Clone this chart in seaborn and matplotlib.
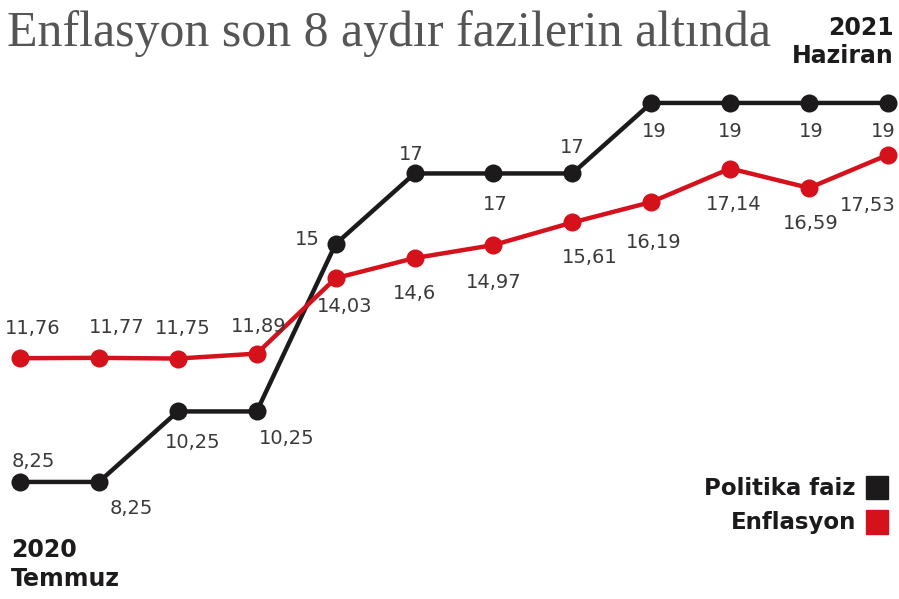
import numpy as np
import pandas as pd
import matplotlib.pyplot as plt
import seaborn as sns

# Monthly data, July 2020 .. June 2021
months = list(range(12))
faiz = [8.25, 8.25, 10.25, 10.25, 15, 17, 17, 17, 19, 19, 19, 19]
enflasyon = [11.76, 11.77, 11.75, 11.89, 14.03, 14.6, 14.97, 15.61, 16.19, 17.14, 16.59, 17.53]

# label offsets (pixels) for each point
faiz_off = [(13, 20), (32, -27), (15, -31), (30, -27), (-28, 4), (-3, 19), (2, -31), (0, 26),
            (3, -29), (0, -29), (2, -29), (-5, -29)]
enf_off = [(13, 30), (18, 30), (5, 30), (2, 27), (9, -28), (0, -35), (0, -37), (17, -35),
           (2, -40), (3, -36), (2, -36), (-20, -51)]

BLACK = "#1c1a1b"
RED = "#d5121c"
TXT = "#3a3a3a"

sns.set_style("white")
plt.rcParams["font.family"] = ["DejaVu Sans"]

fig = plt.figure(figsize=(8.99, 5.99), dpi=100)
ax = fig.add_axes([0, 0, 1, 1])

df = pd.DataFrame({"ay": months * 2,
                   "deger": faiz + enflasyon,
                   "seri": ["Politika faiz"] * 12 + ["Enflasyon"] * 12})
sns.lineplot(data=df, x="ay", y="deger", hue="seri", palette=[BLACK, RED],
             marker="o", markersize=13, markeredgewidth=0, linewidth=3.2,
             legend=False, ax=ax)

for i in months:
    dx, dy = faiz_off[i]
    ax.annotate(f"{faiz[i]:g}".replace(".", ","), (i, faiz[i]), xytext=(dx, dy),
                textcoords="offset pixels", ha="center", va="center",
                fontsize=14, color=TXT)
    dx, dy = enf_off[i]
    ax.annotate(f"{enflasyon[i]:g}".replace(".", ","), (i, enflasyon[i]), xytext=(dx, dy),
                textcoords="offset pixels", ha="center", va="center",
                fontsize=14, color=TXT)

ax.set_xlim(-0.2535, 11.139)
ax.set_ylim(4.93, 21.92)
ax.axis("off")

fig.text(0.008, 0.944, "Enflasyon son 8 aydır fazilerin altında", family="Liberation Serif",
         fontsize=36, color="#555555", va="center", ha="left")
fig.text(0.994, 0.93, "2021\nHaziran", fontsize=17, fontweight="bold", color=BLACK,
         ha="right", va="center", linespacing=1.25)
fig.text(0.012, 0.058, "2020\nTemmuz", fontsize=17, fontweight="bold", color=BLACK,
         ha="left", va="center", linespacing=1.25)

# legend as text + squares
fig.text(0.952, 0.185, "Politika faiz", fontsize=16.5, fontweight="bold", color=BLACK,
         ha="right", va="center")
fig.text(0.952, 0.128, "Enflasyon", fontsize=16.5, fontweight="bold", color=BLACK,
         ha="right", va="center")
fig.patches.append(plt.Rectangle((0.963, 0.167), 0.025, 0.038, color=BLACK,
                                 transform=fig.transFigure, figure=fig))
fig.patches.append(plt.Rectangle((0.963, 0.108), 0.025, 0.040, color=RED,
                                 transform=fig.transFigure, figure=fig))

fig.savefig("out.png", dpi=100)
